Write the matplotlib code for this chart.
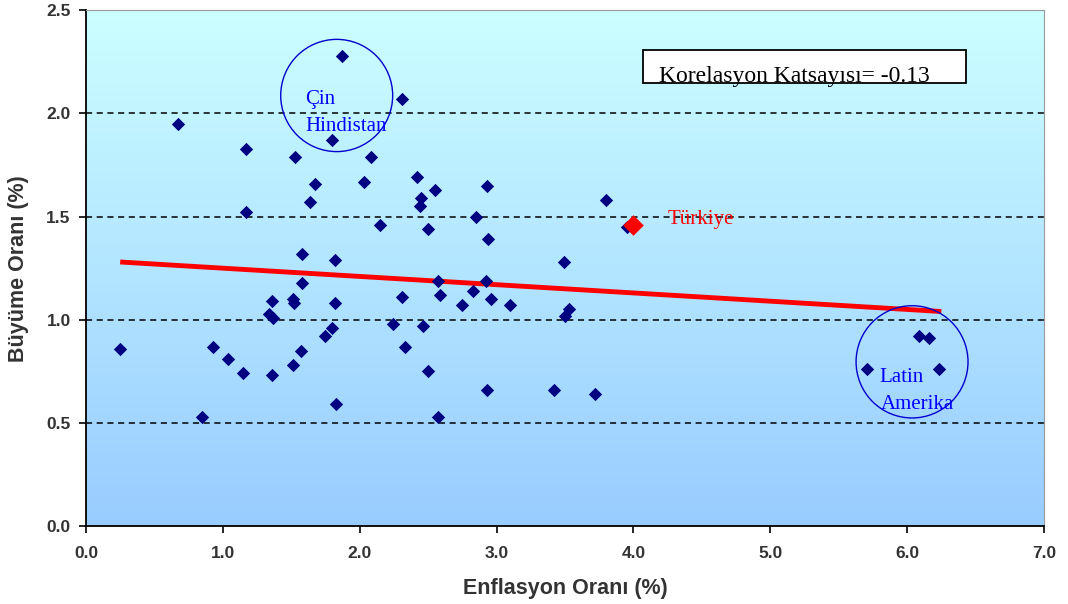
import numpy as np
import matplotlib
matplotlib.use('Agg')
import matplotlib.pyplot as plt
from matplotlib.patches import Ellipse, Rectangle

# enflasyon (x) ve buyume (y) - ulkeler
enf = [0.25, 0.67, 0.85, 0.93, 1.04, 1.15, 1.17, 1.17, 1.36, 1.36, 1.34, 1.37,
       1.51, 1.51, 1.52, 1.53, 1.57, 1.58, 1.58, 1.64, 1.67, 1.75, 1.80, 1.80,
       1.82, 1.82, 1.83, 1.87, 2.03, 2.08, 2.15, 2.24, 2.31, 2.31, 2.33, 2.42,
       2.44, 2.45, 2.46, 2.50, 2.50, 2.55, 2.57, 2.57, 2.59, 2.75, 2.83, 2.85,
       2.92, 2.93, 2.93, 2.94, 2.96, 3.10, 3.42, 3.49, 3.50, 3.53, 3.72, 3.80,
       3.95, 5.71, 6.09, 6.16, 6.23]
buy = [0.86, 1.95, 0.53, 0.87, 0.81, 0.74, 1.83, 1.52, 0.73, 1.09, 1.03, 1.01,
       0.78, 1.10, 1.08, 1.79, 0.85, 1.32, 1.18, 1.57, 1.66, 0.92, 0.96, 1.87,
       1.29, 1.08, 0.59, 2.28, 1.67, 1.79, 1.46, 0.98, 2.07, 1.11, 0.87, 1.69,
       1.55, 1.59, 0.97, 0.75, 1.44, 1.63, 0.53, 1.19, 1.12, 1.07, 1.14, 1.50,
       1.19, 0.66, 1.65, 1.39, 1.10, 1.07, 0.66, 1.28, 1.02, 1.05, 0.64, 1.58,
       1.45, 0.76, 0.92, 0.91, 0.76]
turkiye_x = [4.00]
turkiye_y = [1.46]
trend_x = [0.25, 6.25]
trend_y = [1.28, 1.04]

fig = plt.figure(figsize=(10.68, 6.04), dpi=100)
ax = fig.add_axes([0.0805, 0.129, 0.897, 0.854])

# arka plan gradyan
grad = np.linspace(0, 1, 256).reshape(-1, 1)
cmap = matplotlib.colors.LinearSegmentedColormap.from_list('bg', ['#CCFFFF', '#99CCFF'])
ax.imshow(grad, extent=[0, 7, 0, 2.5], aspect='auto', cmap=cmap, zorder=0, origin='upper')

for yv in [0.5, 1.0, 1.5, 2.0]:
    ax.axhline(yv, color='black', ls=(0, (4, 3)), lw=1.1, zorder=1)

ax.plot(trend_x, trend_y, color='#FF0000', lw=3.5, zorder=2, solid_capstyle='butt')
ax.scatter(enf, buy, marker='D', s=46, color='#000080', zorder=3, linewidths=0)
ax.scatter(turkiye_x, turkiye_y, marker='D', s=110, color='#FF0000', zorder=4, linewidths=0)

ax.add_patch(Ellipse((1.832, 2.087), 0.818, 0.544, fill=False, ec='#0000CC', lw=1, zorder=5))
ax.add_patch(Ellipse((6.036, 0.796), 0.818, 0.544, fill=False, ec='#0000CC', lw=1, zorder=5))

serif = 'Liberation Serif'
ax.text(1.60, 2.068, 'Çin', color='#0000FF', fontsize=15, family=serif,
        ha='left', va='center', zorder=6)
ax.text(1.60, 1.937, 'Hindistan', color='#0000FF', fontsize=15, family=serif,
        ha='left', va='center', zorder=6)
ax.text(5.80, 0.718, 'Latin', color='#0000FF', fontsize=15, family=serif,
        ha='left', va='center', zorder=6)
ax.text(5.81, 0.587, 'Amerika', color='#0000FF', fontsize=15, family=serif,
        ha='left', va='center', zorder=6)
ax.text(4.25, 1.485, 'Türkiye', color='#FF0000', fontsize=15, family=serif,
        ha='left', va='center', zorder=6)

ax.add_patch(Rectangle((4.073, 2.146), 2.358, 0.160, fc='white', ec='black', lw=1.3, zorder=7))
ax.text(4.19, 2.18, 'Korelasyon Katsayısı= -0.13', color='black', fontsize=17,
        family=serif, ha='left', va='center', zorder=8)

ax.set_xlim(0, 7)
ax.set_ylim(0, 2.5)
ax.set_xticks(np.arange(0, 7.01, 1.0))
ax.set_yticks(np.arange(0, 2.51, 0.5))
ax.set_xticklabels(['%.1f' % v for v in np.arange(0, 7.01, 1.0)])
ax.set_yticklabels(['%.1f' % v for v in np.arange(0, 2.51, 0.5)])
for lab in ax.get_xticklabels() + ax.get_yticklabels():
    lab.set_family('Liberation Sans')
    lab.set_fontweight('bold')
    lab.set_fontsize(12.5)
    lab.set_color('#333333')
ax.tick_params(direction='out', length=5, width=1.2, color='black')
ax.tick_params(axis='y', pad=6)
ax.tick_params(axis='x', pad=9)

ax.set_xlabel('Enflasyon Oranı (%)', family='Liberation Sans', fontweight='bold',
              fontsize=15.5, color='#333333')
ax.set_ylabel('Büyüme Oranı (%)', family='Liberation Sans', fontweight='bold',
              fontsize=15.5, color='#333333')
ax.xaxis.set_label_coords(0.5, -0.100)
ax.yaxis.set_label_coords(-0.059, 0.5)

ax.spines['left'].set_color('black')
ax.spines['bottom'].set_color('black')
ax.spines['left'].set_linewidth(1.3)
ax.spines['bottom'].set_linewidth(1.3)
ax.spines['top'].set_color('#999999')
ax.spines['right'].set_color('#999999')

fig.savefig('out.png', dpi=100)
